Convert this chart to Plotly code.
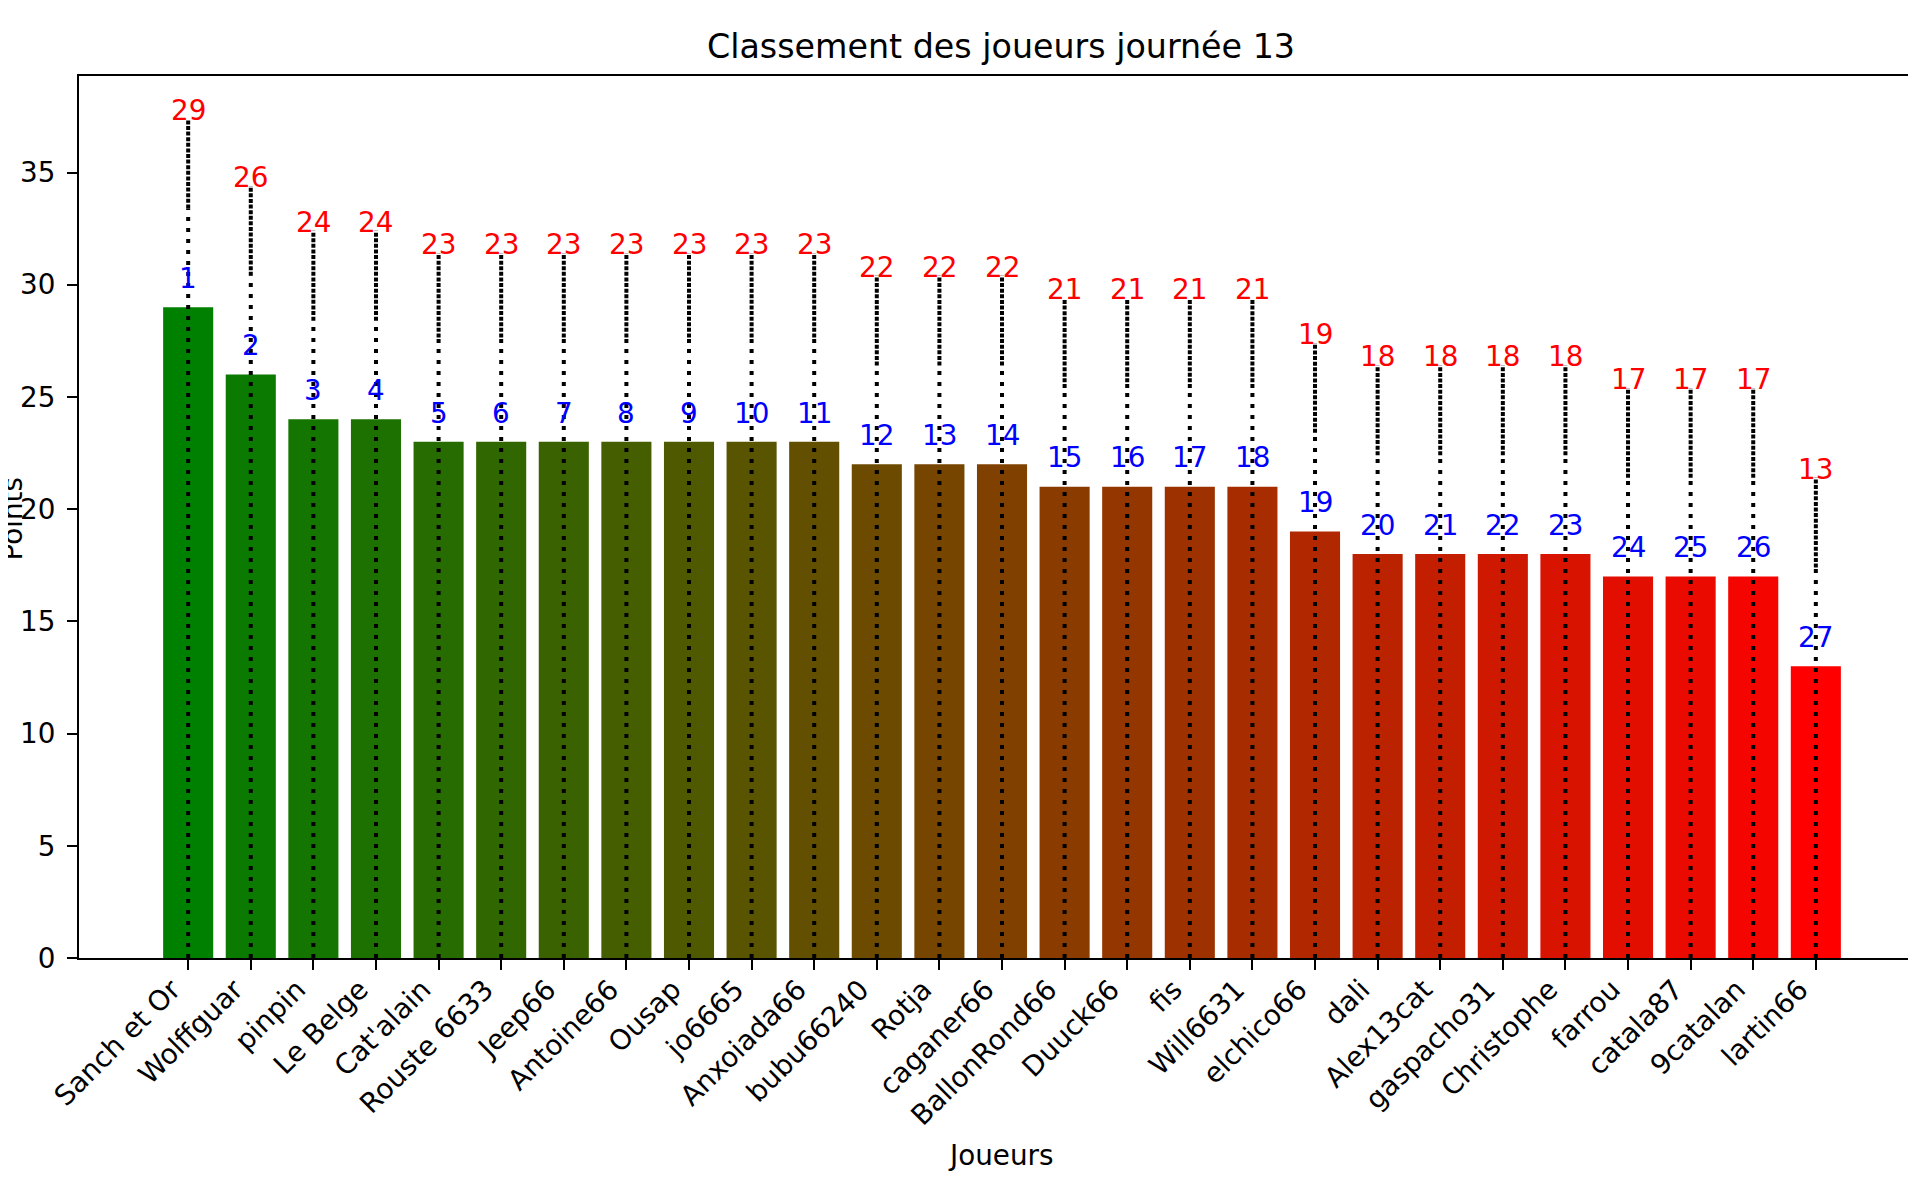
import plotly.graph_objects as go

players = ["Sanch et Or", "Wolffguar", "pinpin", "Le Belge", "Cat'alain", "Rouste 6633",
           "Jeep66", "Antoine66", "Ousap", "jo6665", "Anxoiada66", "bubu66240", "Rotja",
           "caganer66", "BallonRond66", "Duuck66", "fis", "Will6631", "elchico66", "dali",
           "Alex13cat", "gaspacho31", "Christophe", "farrou", "catala87", "9catalan", "lartin66"]
points = [29, 26, 24, 24, 23, 23, 23, 23, 23, 23, 23, 22, 22, 22, 21, 21, 21, 21, 19,
          18, 18, 18, 18, 17, 17, 17, 13]
ranks = [1, 2, 3, 4, 5, 6, 7, 8, 9, 10, 11, 12, 13, 14, 15, 16, 17, 18, 19, 20, 21, 22,
         23, 24, 25, 26, 27]

FONT = "DejaVu Sans"
FS = 27.8
n = len(players)
xs = list(range(n))

# green -> red gradient (style)
colors = []
for i in range(n):
    t = i / (n - 1)
    colors.append(f"rgb({round(255 * t)},{round(128 * (1 - t))},0)")

LINE_EXT = 8.4
MID_EXT = 4.4
RED_OFF = 8.0
BLUE_OFF = 0.5

# the page body adds an 8px offset, so the figure is laid out in page coords - 8
W, H = 1908, 1182
ML, MR, MT, MB = 71.4, 0, 68, 232
PW, PH = W - ML - MR, H - MT - MB

fig = go.Figure()
fig.add_trace(go.Bar(x=xs, y=points, width=0.8, marker=dict(color=colors, line=dict(width=0)),
                     showlegend=False, hoverinfo="skip"))

# lower sparse dotted segments
lx, ly = [], []
for i, p in zip(xs, points):
    lx += [i, i, None]
    ly += [0, p + MID_EXT, None]
fig.add_trace(go.Scatter(x=lx, y=ly, mode="lines",
                         line=dict(color="black", width=4, dash="4px,7px"),
                         showlegend=False, hoverinfo="skip"))
# upper dense dotted segments (two overlapping dotted lines in the original)
ux, uy = [], []
for i, p in zip(xs, points):
    ux += [i, i, None]
    uy += [p + MID_EXT, p + LINE_EXT, None]
fig.add_trace(go.Scatter(x=ux, y=uy, mode="lines",
                         line=dict(color="black", width=4, dash="4px,1.6px"),
                         showlegend=False, hoverinfo="skip"))

annotations = []
for i, p, r in zip(xs, points, ranks):
    annotations.append(dict(x=i, y=p + RED_OFF, xref="x", yref="y", text=str(p),
                            showarrow=False, yanchor="bottom", xanchor="center", yshift=-1,
                            font=dict(family=FONT, size=FS, color="red")))
    annotations.append(dict(x=i, y=p + BLUE_OFF, xref="x", yref="y", text=str(r),
                            showarrow=False, yanchor="bottom", xanchor="center", yshift=-1,
                            font=dict(family=FONT, size=FS, color="blue")))

# axis titles placed like the original
annotations.append(dict(text="Joueurs", xref="paper", yref="paper",
                        x=(993 - ML) / PW, y=-197 / PH,
                        xanchor="center", yanchor="middle", showarrow=False,
                        font=dict(family=FONT, size=FS, color="black")))
annotations.append(dict(text="Points", xref="paper", yref="paper",
                        x=(5 - ML) / PW, y=(950 - 511) / PH,
                        xanchor="center", yanchor="middle", textangle=-90, showarrow=False,
                        font=dict(family=FONT, size=FS, color="black")))

fig.update_layout(
    width=W, height=H,
    margin=dict(l=ML, r=MR, t=MT, b=MB, autoexpand=False),
    paper_bgcolor="white", plot_bgcolor="white",
    font=dict(family=FONT, size=FS, color="black"),
    title=dict(text="Classement des joueurs journée 13", x=993 / W, xref="container",
               y=1 - 38.4 / H, yref="container", xanchor="center", yanchor="middle",
               font=dict(family=FONT, size=33.3, color="black")),
    annotations=annotations,
    bargap=0.2,
    xaxis=dict(range=[-1.744, 27.6], tickmode="array", tickvals=xs, ticktext=players,
               tickangle=-45, ticks="outside", ticklen=10, tickwidth=2.2, tickcolor="black",
               showline=True, linewidth=2.2, linecolor="black", mirror=True,
               showgrid=False, zeroline=False, ticklabelstandoff=-8, ticklabelshift=-16,
               automargin=False,
               tickfont=dict(family=FONT, size=FS, color="black")),
    yaxis=dict(range=[0, 39.3], tickmode="array", tickvals=[0, 5, 10, 15, 20, 25, 30, 35],
               ticks="outside", ticklen=10, tickwidth=2.2, tickcolor="black",
               showline=True, linewidth=2.2, linecolor="black", mirror=False,
               showgrid=False, zeroline=False, ticklabelstandoff=6, automargin=False,
               tickfont=dict(family=FONT, size=FS, color="black")),
)

fig.write_html("out.html")
